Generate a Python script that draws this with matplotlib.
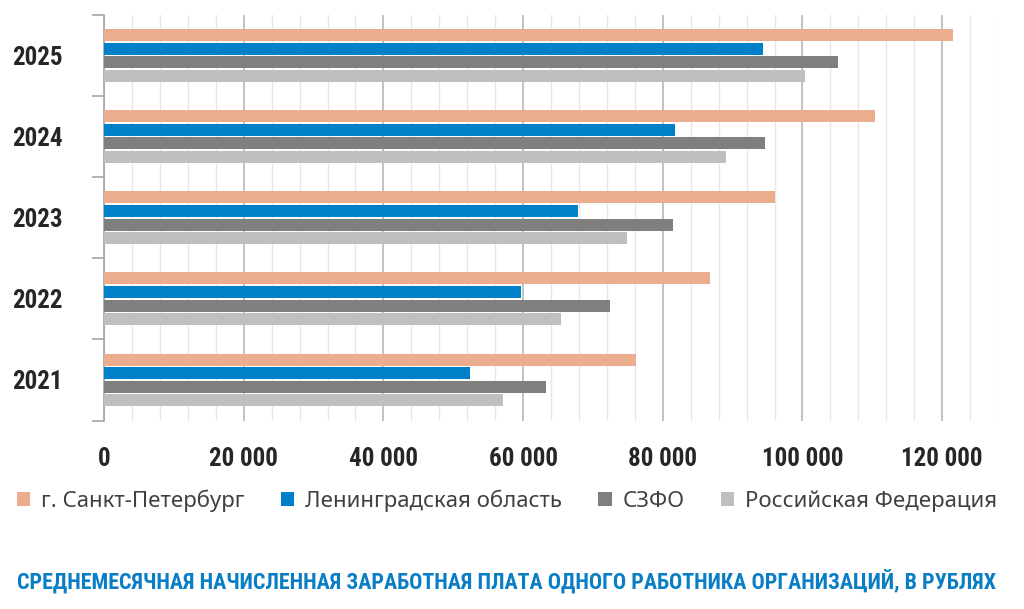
import matplotlib
matplotlib.use('Agg')
import matplotlib.pyplot as plt
from matplotlib import font_manager as fm
from matplotlib.patches import Patch
from matplotlib.ticker import MultipleLocator, FixedLocator, FixedFormatter, NullFormatter
import numpy as np

# ---------------- data ----------------
years = ['2021', '2022', '2023', '2024', '2025']
series_names = ['г. Санкт-Петербург', 'Ленинградская область', 'СЗФО', 'Российская Федерация']
spb = [76150, 86720, 96060, 110350, 121500]
len_obl = [52470, 59770, 67860, 81800, 94340]
szfo = [63330, 72400, 81480, 94670, 105100]
rf = [57060, 65380, 74840, 89070, 100300]
x_ticks = [0, 20000, 40000, 60000, 80000, 100000, 120000]
x_tick_labels = ['0', '20 000', '40 000', '60 000', '80 000', '100 000', '120 000']
title = 'СРЕДНЕМЕСЯЧНАЯ НАЧИСЛЕННАЯ ЗАРАБОТНАЯ ПЛАТА ОДНОГО РАБОТНИКА ОРГАНИЗАЦИЙ, В РУБЛЯХ'

colors = ['#EBAD8D', '#0080C8', '#7F7F7F', '#BFBFBF']

# ---------------- fonts ----------------
names = {f.name for f in fm.fontManager.ttflist}
cond = next((n for n in ['Liberation Sans Narrow', 'DejaVu Sans Condensed',
                         'Roboto Condensed', 'Open Sans Condensed'] if n in names), 'DejaVu Sans')
cond_fp = dict(family=[cond, 'DejaVu Sans'], weight='bold')
legend_family = 'Noto Sans' if 'Noto Sans' in names else 'DejaVu Sans'

W, H = 1024, 609
fig = plt.figure(figsize=(W / 100, H / 100), dpi=100)
ax = fig.add_axes([104 / W, 1 - 420.5 / H, 894 / W, 405.5 / H])

centers = np.arange(len(years)) + 0.5
offsets = [0.252, 0.084, -0.084, -0.252]
bar_h = 0.148
for vals, off, c in zip([spb, len_obl, szfo, rf], offsets, colors):
    ax.barh(centers + off, vals, height=bar_h, color=c, zorder=3)

ax.set_xlim(0, 128000)
ax.set_ylim(0, 5)

# x axis grid
ax.set_xticks(x_ticks)
ax.set_xticklabels(x_tick_labels)
ax.xaxis.set_minor_locator(MultipleLocator(4000))
ax.grid(axis='x', which='major', color='#bdbdbd', lw=1.3, zorder=0)
ax.grid(axis='x', which='minor', color='#e6e6e6', lw=1.0, zorder=0)
ax.tick_params(axis='x', which='both', length=0, pad=19, labelsize=18, labelcolor='#262626')
for lab in ax.get_xticklabels():
    lab.set_family([cond, 'DejaVu Sans'])
    lab.set_weight('bold')

# y axis
ax.yaxis.set_major_locator(FixedLocator(range(6)))
ax.yaxis.set_major_formatter(NullFormatter())
ax.yaxis.set_minor_locator(FixedLocator(centers))
ax.yaxis.set_minor_formatter(FixedFormatter(years))
ax.tick_params(axis='y', which='major', length=9, width=1.2, color='#a6a6a6')
ax.tick_params(axis='y', which='minor', length=0, pad=30, labelsize=18, labelcolor='#262626')
for lab in ax.get_yticklabels(minor=True):
    lab.set_family([cond, 'DejaVu Sans'])
    lab.set_weight('bold')

for s in ['top', 'right', 'bottom']:
    ax.spines[s].set_visible(False)
ax.spines['left'].set_color('#a6a6a6')
ax.spines['left'].set_linewidth(1.2)
ax.set_axisbelow(True)

# legend
handles = [Patch(facecolor=c, edgecolor='none') for c in colors]
fig.legend(handles, series_names, loc='center left', bbox_to_anchor=(17 / W, 1 - 501 / H),
           ncol=4, frameon=False, borderpad=0, borderaxespad=0,
           handlelength=0.6, handleheight=0.6, handletextpad=0.5, columnspacing=1.62,
           prop=dict(family=legend_family, size=16), labelcolor='#404040')

# title, fitted to width
t = fig.text(17 / W, 1 - 581 / H, title, color='#0A7EC5', va='center', ha='left',
             fontsize=20, **cond_fp)
fig.canvas.draw()
bb = t.get_window_extent()
t.set_fontsize(20 * 983 / bb.width)

fig.savefig('out.png', dpi=100)
